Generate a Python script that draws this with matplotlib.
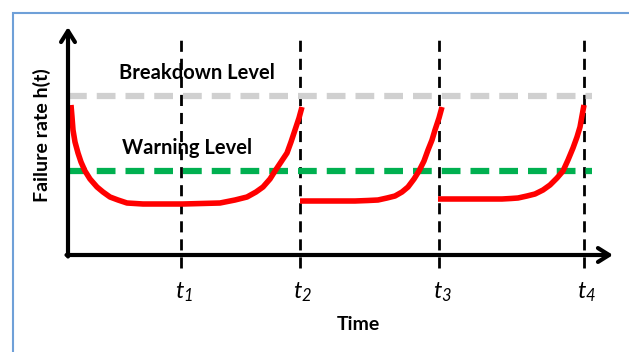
import matplotlib
matplotlib.use("Agg")
import matplotlib.pyplot as plt
from matplotlib.patches import Rectangle

plt.rcParams['font.family'] = ['Lato', 'DejaVu Sans']
plt.rcParams['mathtext.fontset'] = 'custom'
plt.rcParams['mathtext.it'] = 'Lato:italic'
plt.rcParams['mathtext.rm'] = 'Lato:italic'

# failure rate curves (time, rate)
seg1_t = [3, 4, 5, 7, 10, 13, 17, 22, 29, 35, 42, 50, 59, 67, 75, 115,
          152, 167, 179, 188, 195, 202, 207, 213, 219, 223, 227, 231, 234]
seg1_h = [150, 138, 125, 113, 102, 93, 84, 76, 68, 63, 58, 55, 52, 51.5, 51, 51,
          52, 55, 58, 63, 68, 76, 84, 93, 102, 113, 125, 137, 148]
seg2_t = [232, 287, 300, 310, 319, 327, 334, 340, 346, 351, 356, 360, 364,
          367, 371, 374]
seg2_h = [54, 54, 54.5, 55, 57, 59, 63, 68, 76, 84, 94, 105, 115,
          125, 137, 148]
seg3_t = [370, 434, 443, 450, 459, 467, 475, 482, 489, 495, 500, 505, 509,
          512, 514, 516]
seg3_h = [56, 56, 56.5, 57, 59, 61, 65, 70, 77, 84, 95, 107, 118,
          128, 139, 150]

# maintenance instants and levels
t_marks = [113, 232, 371, 516]
t_labels = [r'$t_1$', r'$t_2$', r'$t_3$', r'$t_4$']
breakdown_level = 159
warning_level = 84

fig = plt.figure(figsize=(6.29, 3.52), dpi=100)
ax = fig.add_axes([0, 0, 1, 1])
ax.set_xlim(-68, 561)
ax.set_ylim(-97, 255)
ax.axis('off')

# blue frame
ax.add_patch(Rectangle((-55, -200), 800, 442, fill=False,
                       edgecolor='#6fa0d8', linewidth=1.5))

# vertical dashed lines at the t instants
for t in t_marks:
    ax.plot([t, t], [-13, 215], color='black', linewidth=2,
            dashes=(4, 2.5))

# level lines
ax.plot([0, 524], [breakdown_level, breakdown_level], color='#d0d0d0',
        linewidth=4.5, dashes=(3, 1.6))
ax.plot([0, 524], [warning_level, warning_level], color='#00b050',
        linewidth=4.5, dashes=(3, 1.6))

# failure rate curves
for tt, hh in [(seg1_t, seg1_h), (seg2_t, seg2_h), (seg3_t, seg3_h)]:
    ax.plot(tt, hh, color='#ff0000', linewidth=4, solid_capstyle='butt',
            solid_joinstyle='round')

# axes arrows
arrow = dict(arrowstyle='->,head_length=0.8,head_width=0.5',
             color='black', linewidth=3, shrinkA=0, shrinkB=0)
ax.annotate('', xy=(0, 228), xytext=(0, -1.5), arrowprops=arrow)
ax.annotate('', xy=(545, 0), xytext=(-1.5, 0), arrowprops=arrow)

# texts
ax.text(129, 182, 'Breakdown Level', ha='center', va='center',
        fontsize=14.5, fontweight='bold')
ax.text(119, 107, 'Warning Level', ha='center', va='center',
        fontsize=14.5, fontweight='bold')
ax.text(-26, 120, 'Failure rate h(t)', ha='center', va='center',
        rotation=90, fontsize=14, fontweight='bold')
ax.text(290, -70, 'Time', ha='center', va='center',
        fontsize=14, fontweight='bold')
for t, lab in zip(t_marks, t_labels):
    ax.text(t + 3, -37, lab, ha='center', va='center', fontsize=17)

fig.savefig('out.png', dpi=100)
